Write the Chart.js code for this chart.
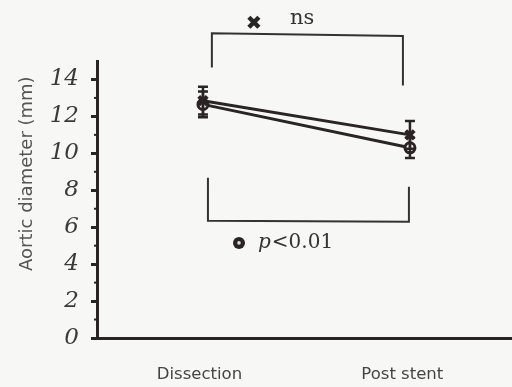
<!DOCTYPE html>
<html><head><meta charset="utf-8">
<script src="https://cdn.jsdelivr.net/npm/chart.js@4.4.0/dist/chart.umd.min.js"></script>
<style>html,body{margin:0;padding:0;background:#f7f7f5;}#wrap{width:512px;height:387px;}</style>
</head><body><div id="wrap"><canvas id="c" width="512" height="387"></canvas></div>
<script>
const categories = ['Dissection', 'Post stent'];
const stentGroupMean = [12.85, 11.0];    // cross marker series
const stentGroupErr  = [0.75, 0.75];
const otherGroupMean = [12.65, 10.3];    // open circle series
const otherGroupErr  = [0.70, 0.55];
const yTicks = [0, 2, 4, 6, 8, 10, 12, 14];
const sigLabels = ['ns', 'p<0.01'];
const yTitle = 'Aortic diameter (mm)';

const INK = '#2b2424';

const errorBars = {
  id: 'errorBars',
  afterDatasetsDraw(chart) {
    const {ctx, scales: {x, y}} = chart;
    ctx.save();
    ctx.strokeStyle = INK; ctx.lineWidth = 2.5;
    [[stentGroupMean, stentGroupErr], [otherGroupMean, otherGroupErr]].forEach(([m, e]) => {
      m.forEach((v, i) => {
        const px = x.getPixelForValue(i);
        const top = y.getPixelForValue(v + e[i]);
        const bot = y.getPixelForValue(v - e[i]);
        ctx.beginPath();
        ctx.moveTo(px, top); ctx.lineTo(px, bot);
        ctx.moveTo(px - 5, top); ctx.lineTo(px + 5, top);
        ctx.moveTo(px - 5, bot); ctx.lineTo(px + 5, bot);
        ctx.stroke();
      });
    });
    ctx.restore();
  }
};

const annotations = {
  id: 'annotations',
  afterDraw(chart) {
    const {ctx, scales: {x, y}} = chart;
    ctx.save();
    // minor ticks on y axis
    ctx.strokeStyle = INK; ctx.lineWidth = 2;
    for (let v = 1; v < 15; v += 2) {
      const py = y.getPixelForValue(v);
      ctx.beginPath(); ctx.moveTo(x.left - 3, py); ctx.lineTo(x.left, py); ctx.stroke();
    }
    // y axis title
    ctx.save();
    ctx.translate(27, y.getPixelForValue(8.9));
    ctx.rotate(-Math.PI / 2);
    ctx.font = '18px "DejaVu Sans", sans-serif';
    ctx.fillStyle = '#555'; ctx.textAlign = 'center'; ctx.textBaseline = 'middle';
    ctx.fillText(yTitle, 0, 0);
    ctx.restore();
    // top bracket (ns)
    ctx.strokeStyle = '#333'; ctx.lineWidth = 2;
    ctx.beginPath();
    ctx.moveTo(x.getPixelForValue(0.043), y.getPixelForValue(14.65));
    ctx.lineTo(x.getPixelForValue(0.043), y.getPixelForValue(16.5));
    ctx.lineTo(x.getPixelForValue(0.966), y.getPixelForValue(16.35));
    ctx.lineTo(x.getPixelForValue(0.966), y.getPixelForValue(13.67));
    ctx.stroke();
    // bottom bracket (p<0.01)
    ctx.beginPath();
    ctx.moveTo(x.getPixelForValue(0.024), y.getPixelForValue(8.68));
    ctx.lineTo(x.getPixelForValue(0.024), y.getPixelForValue(6.35));
    ctx.lineTo(x.getPixelForValue(0.995), y.getPixelForValue(6.3));
    ctx.lineTo(x.getPixelForValue(0.995), y.getPixelForValue(8.19));
    ctx.stroke();
    // cross key
    let cx = x.getPixelForValue(0.246), cy = y.getPixelForValue(17.1);
    ctx.strokeStyle = INK; ctx.lineWidth = 4.5; ctx.lineCap = 'butt';
    ctx.beginPath();
    ctx.moveTo(cx - 5, cy - 5); ctx.lineTo(cx + 5, cy + 5);
    ctx.moveTo(cx + 5, cy - 5); ctx.lineTo(cx - 5, cy + 5);
    ctx.stroke();
    ctx.fillStyle = '#333'; ctx.textBaseline = 'middle'; ctx.textAlign = 'left';
    ctx.font = '21px "DejaVu Serif", serif';
    ctx.fillText(sigLabels[0], x.getPixelForValue(0.42), y.getPixelForValue(17.3));
    // circle key
    cx = x.getPixelForValue(0.174); cy = y.getPixelForValue(5.15);
    ctx.beginPath(); ctx.arc(cx, cy, 6, 0, Math.PI * 2);
    ctx.fillStyle = INK; ctx.fill();
    ctx.beginPath(); ctx.arc(cx, cy, 1.8, 0, Math.PI * 2);
    ctx.fillStyle = '#ddd'; ctx.fill();
    const tx = x.getPixelForValue(0.266), ty = y.getPixelForValue(5.15);
    ctx.fillStyle = '#333';
    ctx.font = 'italic 20px "DejaVu Serif", serif';
    ctx.fillText('p', tx, ty);
    const pw = ctx.measureText('p').width;
    ctx.font = '20px "DejaVu Serif", serif';
    ctx.fillText(sigLabels[1].slice(1), tx + pw + 1, ty);
    ctx.restore();
  }
};

new Chart(document.getElementById('c'), {
  type: 'line',
  data: {
    datasets: [
      {
        data: stentGroupMean.map((v, i) => ({x: i, y: v})),
        borderColor: INK, borderWidth: 3,
        pointStyle: 'crossRot', pointRadius: 6, pointBorderWidth: 4,
        pointBorderColor: INK, pointBackgroundColor: INK
      },
      {
        data: otherGroupMean.map((v, i) => ({x: i, y: v})),
        borderColor: INK, borderWidth: 3,
        pointStyle: 'circle', pointRadius: 5, pointBorderWidth: 3,
        pointBorderColor: INK, pointBackgroundColor: '#ffffff'
      }
    ]
  },
  options: {
    responsive: false, animation: false,
    layout: {autoPadding: false, padding: {top: 61, right: 0, left: 0, bottom: 0}},
    plugins: {legend: {display: false}, tooltip: {enabled: false}},
    scales: {
      x: {
        type: 'linear', min: -0.512, max: 1.493,
        // labels sit a few pixels left of the data columns, as in the source figure
        afterBuildTicks(s) { s.ticks = categories.map((c, i) => ({value: i - 0.017 - 0.02 * i, label: c})); },
        afterFit(s) { s.height = 49; s.paddingLeft = 0; s.paddingRight = 0; },
        grid: {display: false, drawTicks: false},
        border: {display: true, color: INK, width: 3},
        ticks: {
          callback: (v, i) => categories[i] ?? '',
          font: {family: '"DejaVu Sans", sans-serif', size: 16.5},
          color: '#444', padding: 27, maxRotation: 0
        }
      },
      y: {
        min: 0, max: 15,
        afterBuildTicks(s) { s.ticks = yTicks.map(v => ({value: v})); },
        afterFit(s) { s.width = 97; s.paddingTop = 0; s.paddingBottom = 0; },
        grid: {display: true, drawOnChartArea: false, tickLength: 6, tickWidth: 3, tickColor: INK},
        border: {display: true, color: INK, width: 3},
        ticks: {
          font: {family: '"DejaVu Serif", serif', size: 23, style: 'italic'},
          color: '#3a3a3a', padding: 12
        },
        title: {display: false}
      }
    }
  },
  plugins: [errorBars, annotations]
});
</script>
</body></html>
